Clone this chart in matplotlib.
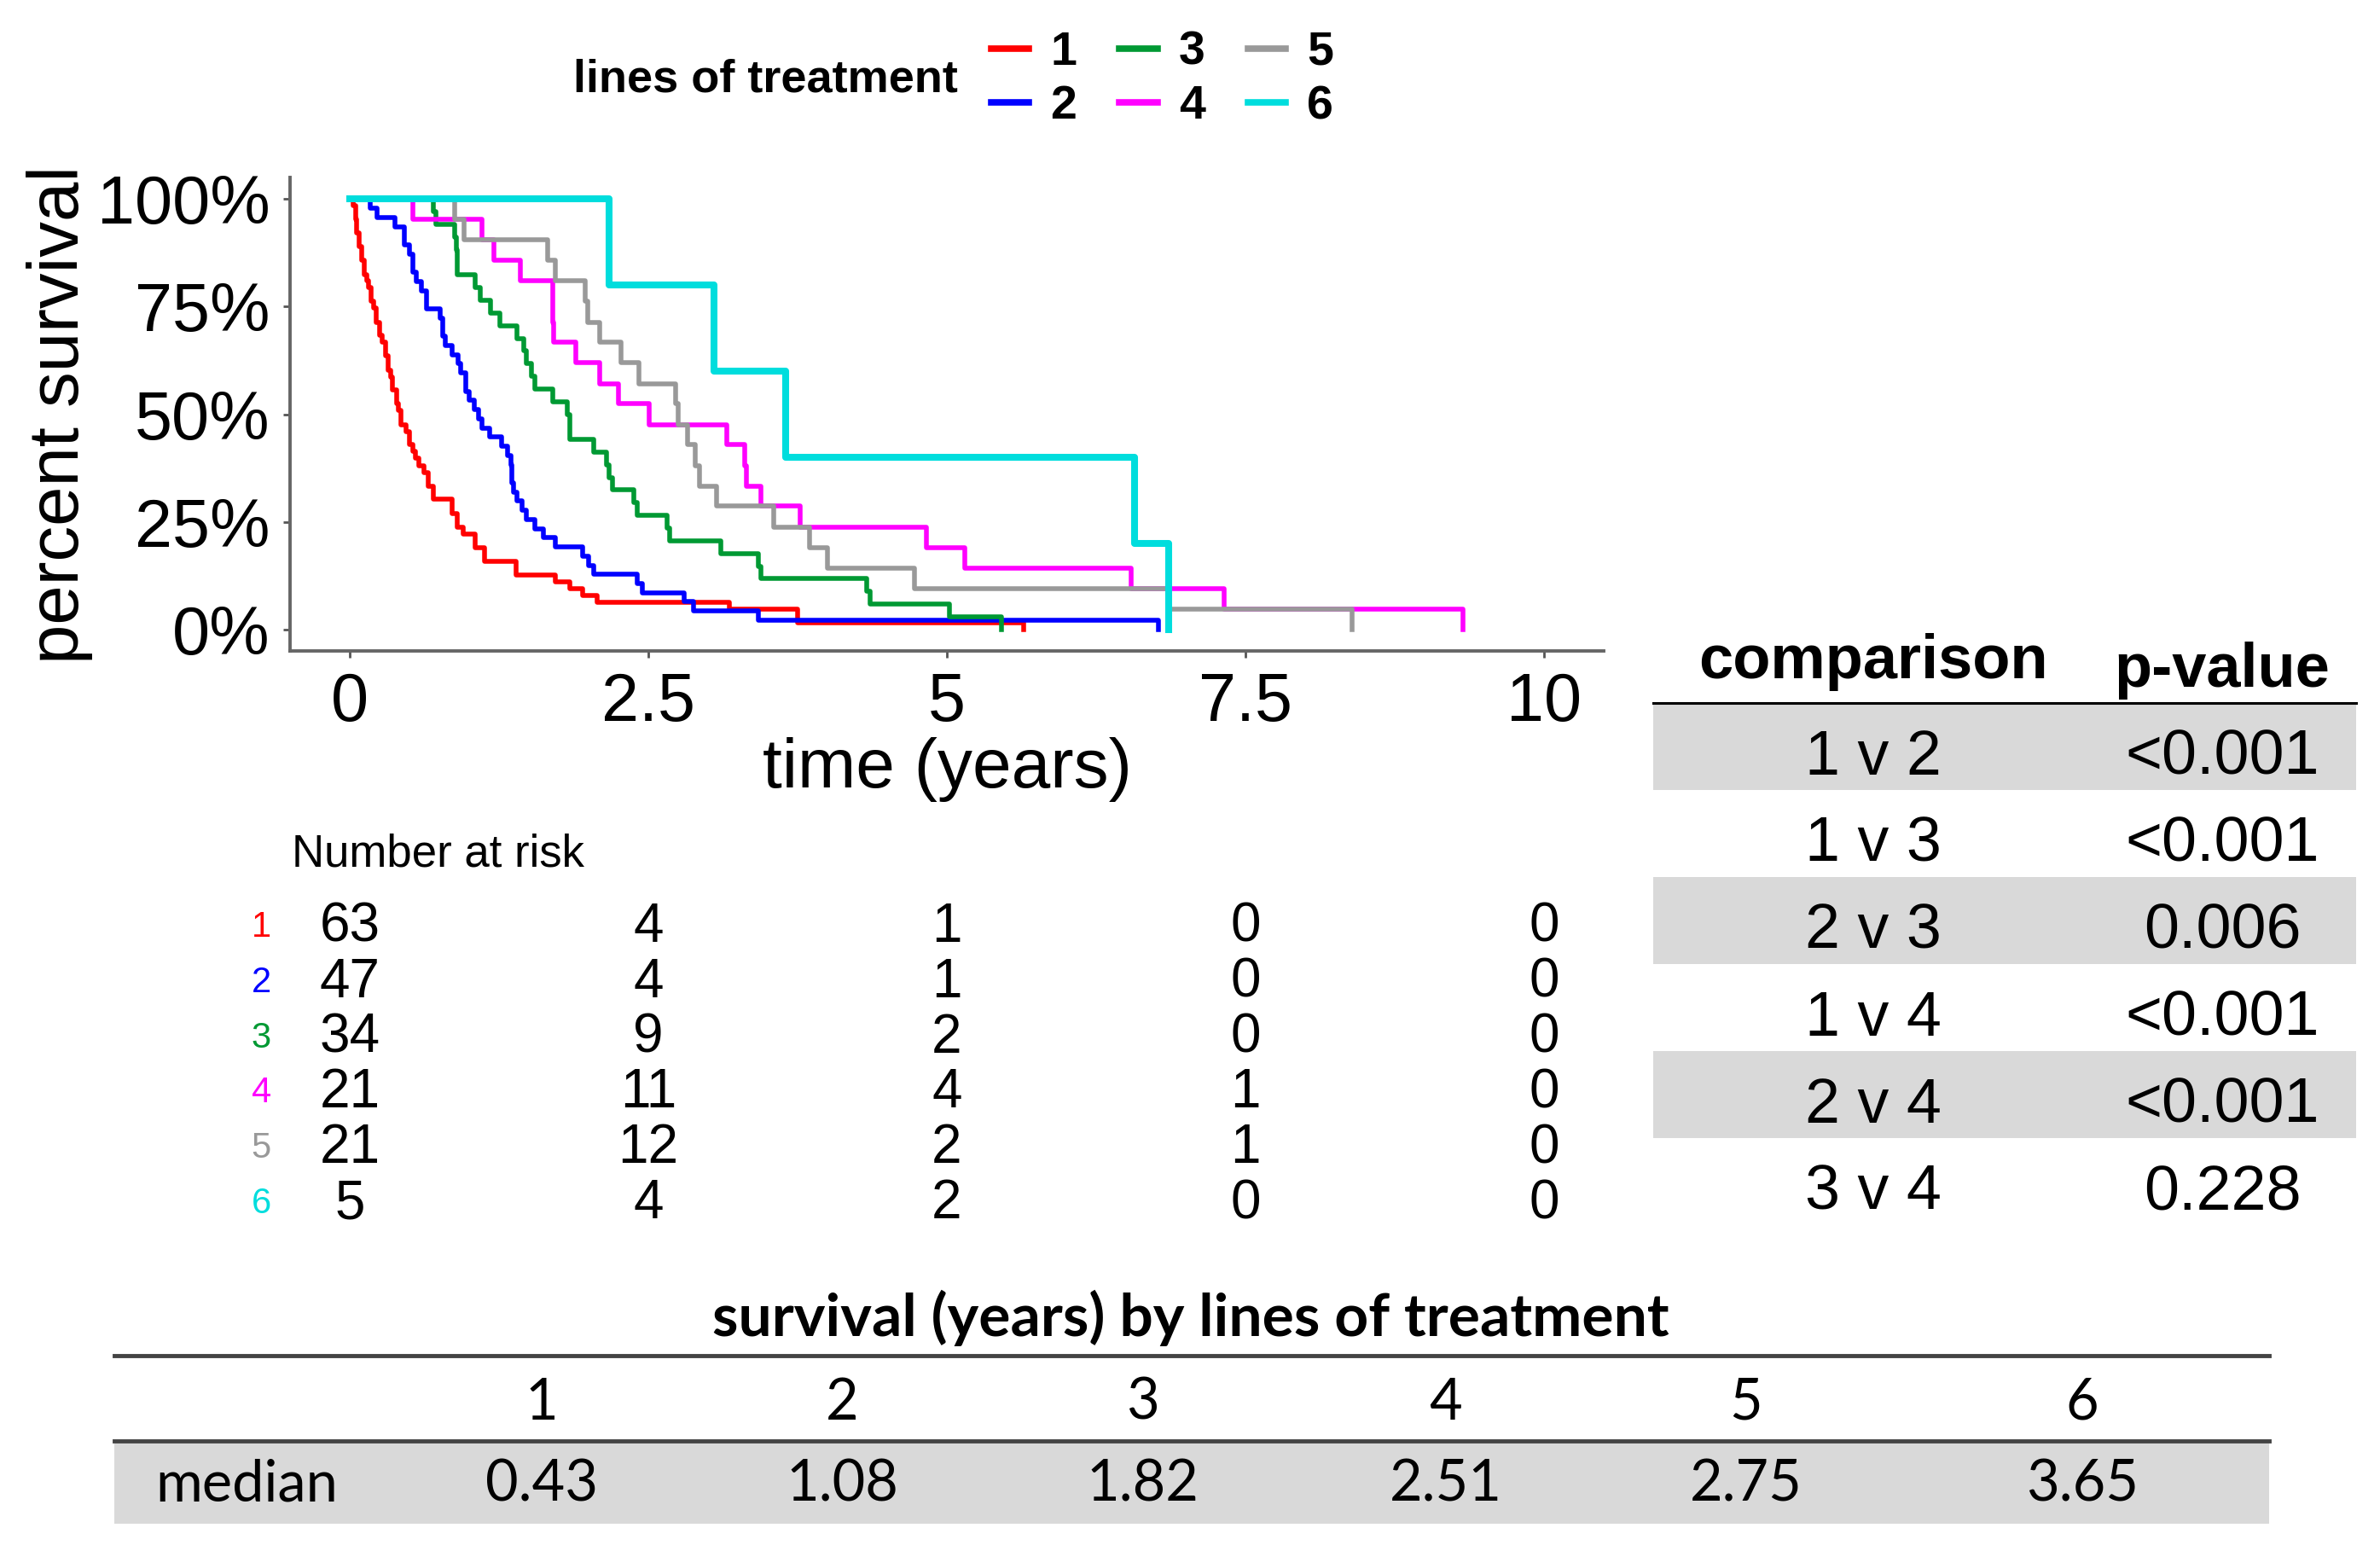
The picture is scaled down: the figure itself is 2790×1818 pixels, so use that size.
import numpy as np
import matplotlib
matplotlib.use('Agg')
import matplotlib.pyplot as plt
from matplotlib.lines import Line2D
from matplotlib.patches import Rectangle

plt.rcParams['font.family'] = ['Liberation Sans', 'DejaVu Sans']

# --- data ---
groups = ['1', '2', '3', '4', '5', '6']
colors = ['#FF0000', '#0000FF', '#009933', '#FF00FF', '#999999', '#00DDDD']

# Kaplan-Meier steps: time of drop (years) and survival after the drop
t1 = [0.03, 0.05, 0.06, 0.08, 0.10, 0.12, 0.14, 0.16, 0.18, 0.20, 0.22, 0.25, 0.27, 0.30,
      0.32, 0.34, 0.36, 0.39, 0.41, 0.43, 0.47, 0.50, 0.53, 0.55, 0.58, 0.62, 0.66, 0.70,
      0.86, 0.90, 0.95, 1.05, 1.13, 1.39, 1.72, 1.84, 1.95, 2.07, 3.18, 3.75, 5.64]
s1 = [0.984, 0.952, 0.921, 0.889, 0.857, 0.825, 0.810, 0.794, 0.762, 0.746, 0.714, 0.683,
      0.667, 0.635, 0.603, 0.587, 0.556, 0.524, 0.508, 0.476, 0.460, 0.429, 0.413, 0.397,
      0.381, 0.365, 0.333, 0.302, 0.270, 0.238, 0.222, 0.190, 0.159, 0.127, 0.111, 0.095,
      0.079, 0.063, 0.048, 0.016, 0.0]

t2 = [0.17, 0.23, 0.38, 0.46, 0.50, 0.53, 0.56, 0.60, 0.64, 0.76, 0.78, 0.80, 0.86, 0.91,
      0.93, 0.97, 1.00, 1.04, 1.08, 1.11, 1.17, 1.27, 1.32, 1.35, 1.36, 1.37, 1.40, 1.44,
      1.48, 1.55, 1.62, 1.72, 1.95, 2.00, 2.04, 2.41, 2.45, 2.80, 2.88, 3.42, 6.77]
s2 = [0.979, 0.957, 0.936, 0.894, 0.872, 0.830, 0.809, 0.787, 0.745, 0.723, 0.681, 0.660,
      0.638, 0.617, 0.596, 0.553, 0.532, 0.511, 0.489, 0.468, 0.447, 0.426, 0.404, 0.383,
      0.340, 0.319, 0.298, 0.277, 0.255, 0.234, 0.213, 0.191, 0.170, 0.149, 0.128, 0.106,
      0.085, 0.064, 0.043, 0.021, 0.0]

t3 = [0.70, 0.72, 0.88, 0.89, 0.90, 1.05, 1.09, 1.18, 1.26, 1.40, 1.46, 1.48, 1.52, 1.55,
      1.70, 1.82, 1.84, 2.04, 2.15, 2.17, 2.20, 2.38, 2.41, 2.66, 2.68, 3.11, 3.42, 3.44,
      4.33, 4.36, 5.02, 5.46]
s3 = [0.971, 0.941, 0.912, 0.882, 0.824, 0.794, 0.765, 0.735, 0.706, 0.676, 0.647, 0.618,
      0.588, 0.559, 0.529, 0.500, 0.441, 0.412, 0.382, 0.353, 0.324, 0.294, 0.265, 0.235,
      0.206, 0.176, 0.147, 0.118, 0.088, 0.059, 0.029, 0.0]

t4 = [0.53, 1.11, 1.21, 1.43, 1.70, 1.71, 1.89, 2.09, 2.25, 2.51, 3.16, 3.31, 3.32, 3.44,
      3.77, 4.83, 5.15, 6.54, 7.32, 9.32]
s4 = [0.952, 0.905, 0.857, 0.810, 0.714, 0.667, 0.619, 0.571, 0.524, 0.476, 0.429, 0.381,
      0.333, 0.286, 0.238, 0.190, 0.143, 0.095, 0.048, 0.0]

t5 = [0.88, 0.96, 1.66, 1.72, 1.97, 1.99, 2.09, 2.27, 2.42, 2.73, 2.75, 2.83, 2.89, 2.93,
      3.07, 3.55, 3.85, 4.00, 4.73, 6.86, 8.39]
s5 = [0.952, 0.905, 0.857, 0.810, 0.762, 0.714, 0.667, 0.619, 0.571, 0.524, 0.476, 0.429,
      0.381, 0.333, 0.286, 0.238, 0.190, 0.143, 0.095, 0.048, 0.0]

t6 = [2.17, 3.05, 3.65, 6.57, 6.86]
s6 = [0.8, 0.6, 0.4, 0.2, 0.0]

times = [t1, t2, t3, t4, t5, t6]
survs = [s1, s2, s3, s4, s5, s6]

# number at risk
risk_times = [0, 2.5, 5, 7.5, 10]
risk_labels = ['0', '2.5', '5', '7.5', '10']
at_risk = [[63, 4, 1, 0, 0],
           [47, 4, 1, 0, 0],
           [34, 9, 2, 0, 0],
           [21, 11, 4, 1, 0],
           [21, 12, 2, 1, 0],
           [5, 4, 2, 0, 0]]

# pairwise comparisons
comparisons = ['1 v 2', '1 v 3', '2 v 3', '1 v 4', '2 v 4', '3 v 4']
p_values = ['<0.001', '<0.001', '0.006', '<0.001', '<0.001', '0.228']

# median survival
medians = ['0.43', '1.08', '1.82', '2.51', '2.75', '3.65']

# --- figure ---
W, H = 2790, 1818
fig = plt.figure(figsize=(W / 100, H / 100), dpi=100)

# overlay axes in pixel units for the tables
ax_t = fig.add_axes([0, 0, 1, 1])
ax_t.set_xlim(0, W)
ax_t.set_ylim(H, 0)
ax_t.axis('off')

# survival curves
ax = fig.add_axes([340 / W, 1 - 763 / H, 1540 / W, 555 / H])
for t, s, c, g in zip(times, survs, colors, groups):
    lw = 5.8 if g == '6' else 4.0
    ax.step(np.r_[0, t], np.r_[1, s], where='post', color=c, lw=lw)

ax.set_xlim(-0.5, 10.5)
ax.set_ylim(-0.05, 1.05)
ax.set_xticks(risk_times)
ax.set_xticklabels(risk_labels)
ax.set_yticks([0, 0.25, 0.5, 0.75, 1.0])
ax.set_yticklabels(['0%', '25%', '50%', '75%', '100%'])
ax.tick_params(labelsize=57, length=6, width=2, color='#555555', pad=11)
for sp in ['top', 'right']:
    ax.spines[sp].set_visible(False)
for sp in ['left', 'bottom']:
    ax.spines[sp].set_color('#666666')
    ax.spines[sp].set_linewidth(2.8)
ax.set_xlabel('time (years)', fontsize=59, labelpad=2)
ax.set_ylabel('percent survival', fontsize=60, labelpad=3)

# legend at the top
handles = [Line2D([], [], color=c, lw=5.5) for c in colors]
fig.legend(handles, groups, ncol=3, loc='upper left',
           bbox_to_anchor=(1162 / W, 1 - 36 / H), frameon=False,
           prop={'weight': 'bold', 'size': 40}, handlelength=0.8,
           handletextpad=0.45, columnspacing=0.9, labelspacing=0.2,
           borderpad=0, borderaxespad=0)
fig.text(1123 / W, 1 - 93 / H, 'lines of treatment', ha='right', va='center',
         fontsize=39, fontweight='bold')

# number at risk table
fig.text(342 / W, 1 - 1001 / H, 'Number at risk', ha='left', va='center', fontsize=38)
ax_r = fig.add_axes([340 / W, 1 - 1450 / H, 1540 / W, 402 / H])
ax_r.set_xlim(-0.5, 10.5)
ax_r.set_ylim(6.6, 0.4)
ax_r.axis('off')
for i, (row, g, c) in enumerate(zip(at_risk, groups, colors)):
    ax_r.text(-0.74, i + 1, g, color=c, fontsize=30, ha='center', va='center')
    for t, n in zip(risk_times, row):
        ax_r.text(t, i + 1, str(n), fontsize=46, ha='center', va='center')

# comparison table (right)
cmp_left, cmp_right, cmp_top, row_h = 1938, 2762, 824, 102
cmp_x = [2196, 2605]
ax_t.text(cmp_x[0], 795, 'comparison', ha='center', va='baseline', fontsize=52,
          fontweight='bold')
ax_t.text(cmp_x[1], 805, 'p-value', ha='center', va='baseline', fontsize=52,
          fontweight='bold')
for i, (cmp, p) in enumerate(zip(comparisons, p_values)):
    y0 = cmp_top + i * row_h
    if i % 2 == 0:
        ax_t.add_patch(Rectangle((cmp_left, y0), cmp_right - cmp_left, row_h,
                                 fc='#D9D9D9', ec='none'))
    yb = y0 + row_h / 2 + 5 + 28
    ax_t.text(cmp_x[0], yb, cmp, ha='center', va='baseline', fontsize=53)
    ax_t.text(cmp_x[1], yb, p, ha='center', va='baseline', fontsize=53)
ax_t.plot([cmp_left, cmp_right], [cmp_top, cmp_top], color='black', lw=2.2)

# median survival table (bottom)
tb_left, tb_right = 134, 2660
col_x = [635, 987, 1339, 1695, 2047, 2441]
ax_t.text(1396, 1545, 'survival (years) by lines of treatment', ha='center', va='center',
          fontsize=50, fontweight='bold', family='Lato')
ax_t.plot([tb_left, tb_right], [1589, 1589], color='#444444', lw=3.5)
ax_t.add_patch(Rectangle((tb_left, 1692), tb_right - tb_left, 94, fc='#D9D9D9', ec='none'))
ax_t.plot([tb_left, tb_right], [1689, 1689], color='#444444', lw=3.5)
ax_t.text(182, 1741, 'median', ha='left', va='center', fontsize=48, family='Lato')
for x, g, m in zip(col_x, groups, medians):
    ax_t.text(x, 1645, g, ha='center', va='center', fontsize=48, family='Lato')
    ax_t.text(x, 1741, m, ha='center', va='center', fontsize=48, family='Lato')

fig.savefig('out.png', dpi=100, facecolor='white')
